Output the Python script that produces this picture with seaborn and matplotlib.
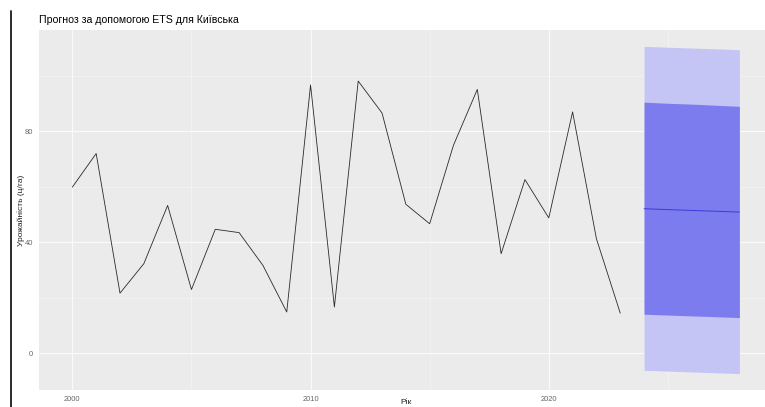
import numpy as np
import pandas as pd
import matplotlib
matplotlib.use('Agg')
import matplotlib.pyplot as plt
import seaborn as sns
from matplotlib.lines import Line2D
from matplotlib.ticker import MultipleLocator

# ====================== DATA ======================
years = list(range(2000, 2024))
yields = [59.9, 72.0, 21.7, 32.3, 53.3, 23.0, 44.7, 43.5, 31.7, 14.9,
          96.7, 16.7, 98.1, 86.6, 53.7, 46.7, 75.0, 95.1, 35.9, 62.6,
          48.8, 87.0, 41.3, 14.5]

fc_years = [2024, 2025, 2026, 2027, 2028]
fc_mean = [52.1, 51.8, 51.5, 51.2, 50.9]
lo80 = [14.1, 13.8, 13.5, 13.2, 12.9]
hi80 = [90.5, 90.1, 89.8, 89.4, 89.0]
lo95 = [-6.1, -6.4, -6.7, -7.0, -7.3]
hi95 = [110.6, 110.3, 110.0, 109.7, 109.4]

hist = pd.DataFrame({'year': years, 'value': yields})
fc = pd.DataFrame({'year': fc_years, 'mean': fc_mean,
                   'lo80': lo80, 'hi80': hi80, 'lo95': lo95, 'hi95': hi95})

# ====================== STYLE ======================
sns.set_style("darkgrid", {'axes.facecolor': '#EBEBEB', 'grid.color': 'white'})
plt.rcParams['font.family'] = ['Liberation Sans', 'DejaVu Sans']

fig = plt.figure(figsize=(7.65, 4.07), dpi=100)
ax = fig.add_axes([39 / 765, 1 - 390 / 407, (772.7 - 39) / 765, 360 / 407])

ax.fill_between(fc['year'], fc['lo95'], fc['hi95'], color='#C4C4F5', lw=0, zorder=2)
ax.fill_between(fc['year'], fc['lo80'], fc['hi80'], color='#7C7CEE', lw=0, zorder=3)
sns.lineplot(data=fc, x='year', y='mean', ax=ax, color='#3B3BD8', lw=0.7, zorder=4)
sns.lineplot(data=hist, x='year', y='value', ax=ax, color='#2A2A2A', lw=0.6, zorder=4)

ax.set_xlim(1998.6, 2029.4)
ax.set_ylim(-13.2, 116.5)
ax.xaxis.set_major_locator(MultipleLocator(10))
ax.xaxis.set_minor_locator(MultipleLocator(5))
ax.yaxis.set_major_locator(MultipleLocator(40))
ax.yaxis.set_minor_locator(MultipleLocator(20))
ax.grid(which='major', color='#FAFAFA', lw=0.9)
ax.grid(which='minor', color='#F5F5F5', lw=0.5)
for s in ax.spines.values():
    s.set_visible(False)
ax.tick_params(axis='both', which='major', length=2.5, width=0.6, color='#6E6E6E',
               labelsize=5.4, labelcolor='#666666', pad=2)
ax.tick_params(axis='both', which='minor', length=0)

ax.set_xlabel('Рік', fontsize=6, color='#222222', va='bottom')
ax.xaxis.set_label_coords(0.5, -16.5 / 360)
ax.set_ylabel('Урожайність (ц/га)', fontsize=6, color='#222222', va='center')
ax.yaxis.set_label_coords(-18 / 733.7, 0.5)
ax.set_title('Прогноз за допомогою ETS для Київська', fontsize=7.6, loc='left',
             color='black', pad=5)

# vertical dark line at the left edge of the screenshot
fig.add_artist(Line2D([10.5 / 765, 10.5 / 765], [0, 1 - 11 / 407],
                      transform=fig.transFigure, color='#1A1A1A', lw=1.3))

plt.savefig('out.png', dpi=100)
